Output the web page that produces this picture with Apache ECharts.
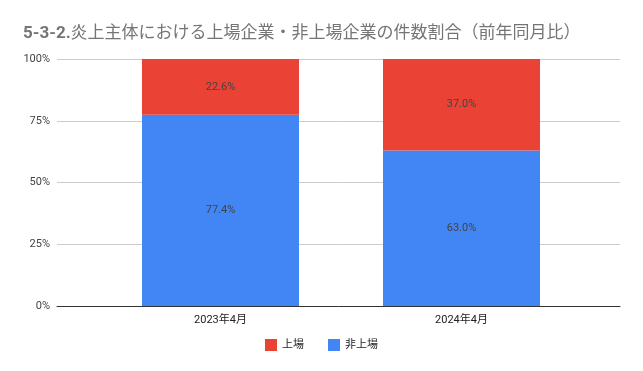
<!DOCTYPE html>
<html>
<head>
<meta charset="utf-8">
<script src="https://cdn.jsdelivr.net/npm/echarts@6/dist/echarts.min.js"></script>
<style>
html,body{margin:0;padding:0;background:#fff;}
#chart{width:643px;height:371px;}
</style>
</head>
<body>
<div id="chart"></div>
<script>
const titlePrefix = '5-3-2.';
const titleText = '炎上主体における上場企業・非上場企業の件数割合（前年同月比）';
const categories = ['2023年4月', '2024年4月'];
const listedShare = [22.6, 37.0];      // 上場
const unlistedShare = [77.4, 63.0];    // 非上場
const yTicks = [0, 25, 50, 75, 100];

const FONT = 'Roboto, "Noto Sans CJK JP", sans-serif';
const chart = echarts.init(document.getElementById('chart'), null, {renderer: 'canvas'});

const toFrac = arr => arr.map(v => v / 100);

chart.setOption({
  animation: false,
  backgroundColor: '#fff',
  textStyle: {fontFamily: FONT},
  title: {
    text: '{b|' + titlePrefix + '}{r|' + titleText + '}',
    left: 18, top: 20,
    textStyle: {
      rich: {
        b: {fontFamily: FONT, fontSize: 17, fontWeight: 'bold', color: '#757575'},
        r: {fontFamily: FONT, fontSize: 17, fontWeight: 'normal', color: '#757575'}
      }
    }
  },
  legend: {
    data: ['上場', '非上場'],
    bottom: 15, left: 'center',
    itemWidth: 12, itemHeight: 12, itemGap: 24,
    icon: 'rect',
    textStyle: {fontFamily: FONT, fontSize: 11, color: '#222'}
  },
  grid: [
    {left: 57, right: 23, top: 59, bottom: 65},
    {left: 100, right: 61, top: 59, bottom: 65}
  ],
  xAxis: [
    {gridIndex: 0, type: 'value', min: 0, max: 1, show: true,
     axisLine: {show: true, onZero: false, lineStyle: {color: '#333', width: 1}},
     axisTick: {show: false}, axisLabel: {show: false}, splitLine: {show: false}},
    {gridIndex: 1, type: 'category', data: categories,
     axisLine: {show: false}, axisTick: {show: false},
     axisLabel: {fontFamily: FONT, fontSize: 11, color: '#222', margin: 9}}
  ],
  yAxis: [
    {gridIndex: 0, type: 'value', min: 0, max: 1, interval: 0.25,
     axisLine: {show: false}, axisTick: {show: false},
     axisLabel: {fontFamily: FONT, fontSize: 11, color: '#444', margin: 7,
       formatter: v => Math.round(v * 100) + '%'},
     splitLine: {lineStyle: {color: '#cccccc', width: 1}}},
    {gridIndex: 1, type: 'value', min: 0, max: 1, show: false, splitLine: {show: false}}
  ],
  series: [
    {name: '非上場', type: 'bar', stack: 'total', xAxisIndex: 1, yAxisIndex: 1,
     barWidth: 157, data: toFrac(unlistedShare),
     itemStyle: {color: '#4285F4'},
     label: {show: true, position: 'inside', fontFamily: FONT, fontSize: 11, color: '#444',
       formatter: p => unlistedShare[p.dataIndex].toFixed(1) + '%'}},
    {name: '上場', type: 'bar', stack: 'total', xAxisIndex: 1, yAxisIndex: 1,
     barWidth: 157, data: toFrac(listedShare),
     itemStyle: {color: '#EA4335'},
     label: {show: true, position: 'inside', fontFamily: FONT, fontSize: 11, color: '#444',
       formatter: p => listedShare[p.dataIndex].toFixed(1) + '%'}}
  ]
});
</script>
</body>
</html>
